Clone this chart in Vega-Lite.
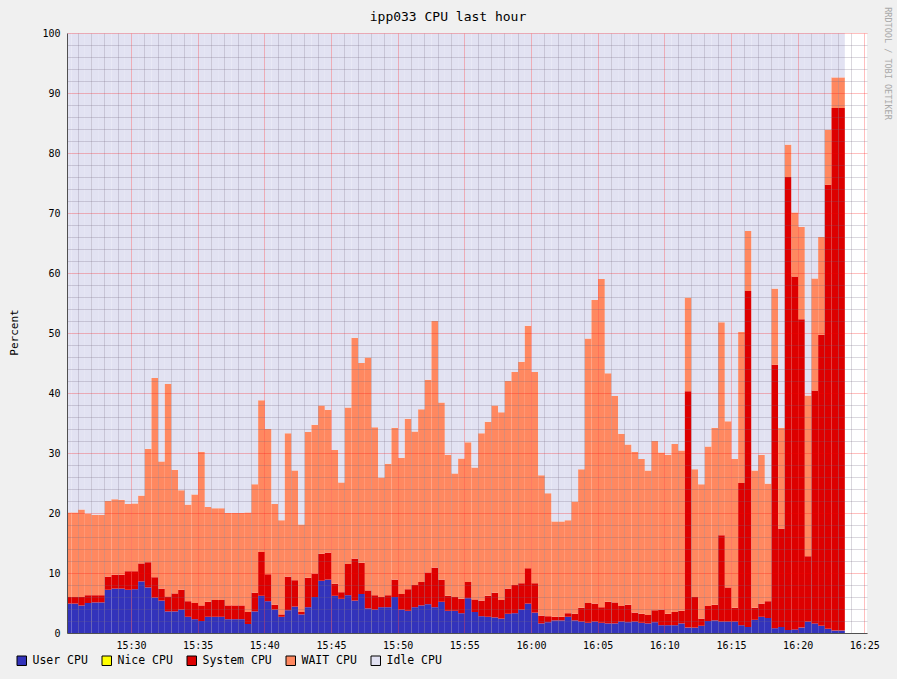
{
  "$schema": "https://vega.github.io/schema/vega-lite/v6.json",
  "width": 800,
  "height": 600,
  "autosize": "none",
  "padding": {"left": 67, "top": 33, "right": 30, "bottom": 46},
  "background": "#F0F0F0",
  "view": {"fill": "white", "stroke": null},
  "config": {"font": "DejaVu Sans Mono"},
  "title": {
    "text": "ipp033 CPU last hour",
    "anchor": "middle",
    "dx": -19,
    "dy": 23,
    "offset": 6,
    "font": "DejaVu Sans Mono",
    "fontSize": 13,
    "fontWeight": "normal",
    "color": "black"
  },
  "data": {
    "values": [
      {"t": "2024-01-01T15:25:00", "user": 4.9, "system": 1.1, "wait": 14.1, "idle": 79.9},
      {"t": "2024-01-01T15:25:30", "user": 4.9, "system": 1.1, "wait": 14.1, "idle": 79.9},
      {"t": "2024-01-01T15:26:00", "user": 4.6, "system": 1.4, "wait": 14.6, "idle": 79.4},
      {"t": "2024-01-01T15:26:30", "user": 5.0, "system": 1.3, "wait": 13.6, "idle": 80.1},
      {"t": "2024-01-01T15:27:00", "user": 5.1, "system": 1.2, "wait": 13.4, "idle": 80.3},
      {"t": "2024-01-01T15:27:30", "user": 5.1, "system": 1.2, "wait": 13.4, "idle": 80.3},
      {"t": "2024-01-01T15:28:00", "user": 7.2, "system": 2.2, "wait": 12.6, "idle": 78.0},
      {"t": "2024-01-01T15:28:30", "user": 7.4, "system": 2.3, "wait": 12.6, "idle": 77.7},
      {"t": "2024-01-01T15:29:00", "user": 7.4, "system": 2.3, "wait": 12.5, "idle": 77.8},
      {"t": "2024-01-01T15:29:30", "user": 7.2, "system": 3.1, "wait": 11.2, "idle": 78.5},
      {"t": "2024-01-01T15:30:00", "user": 7.3, "system": 3.0, "wait": 11.3, "idle": 78.4},
      {"t": "2024-01-01T15:30:30", "user": 8.6, "system": 3.0, "wait": 11.3, "idle": 77.1},
      {"t": "2024-01-01T15:31:00", "user": 7.6, "system": 4.2, "wait": 18.9, "idle": 69.3},
      {"t": "2024-01-01T15:31:30", "user": 5.9, "system": 3.4, "wait": 33.2, "idle": 57.5},
      {"t": "2024-01-01T15:32:00", "user": 5.4, "system": 2.0, "wait": 21.2, "idle": 71.4},
      {"t": "2024-01-01T15:32:30", "user": 3.6, "system": 2.5, "wait": 35.4, "idle": 58.5},
      {"t": "2024-01-01T15:33:00", "user": 3.6, "system": 3.0, "wait": 20.6, "idle": 72.8},
      {"t": "2024-01-01T15:33:30", "user": 3.9, "system": 3.3, "wait": 16.6, "idle": 76.2},
      {"t": "2024-01-01T15:34:00", "user": 2.7, "system": 2.6, "wait": 16.1, "idle": 78.6},
      {"t": "2024-01-01T15:34:30", "user": 2.3, "system": 2.7, "wait": 18.1, "idle": 76.9},
      {"t": "2024-01-01T15:35:00", "user": 2.0, "system": 2.6, "wait": 25.6, "idle": 69.8},
      {"t": "2024-01-01T15:35:30", "user": 2.7, "system": 2.5, "wait": 15.8, "idle": 79.0},
      {"t": "2024-01-01T15:36:00", "user": 2.7, "system": 2.8, "wait": 15.3, "idle": 79.2},
      {"t": "2024-01-01T15:36:30", "user": 2.7, "system": 2.8, "wait": 15.3, "idle": 79.2},
      {"t": "2024-01-01T15:37:00", "user": 2.3, "system": 2.3, "wait": 15.4, "idle": 80.0},
      {"t": "2024-01-01T15:37:30", "user": 2.3, "system": 2.3, "wait": 15.4, "idle": 80.0},
      {"t": "2024-01-01T15:38:00", "user": 2.3, "system": 2.3, "wait": 15.4, "idle": 80.0},
      {"t": "2024-01-01T15:38:30", "user": 1.5, "system": 2.0, "wait": 16.6, "idle": 79.9},
      {"t": "2024-01-01T15:39:00", "user": 3.6, "system": 3.1, "wait": 18.1, "idle": 75.2},
      {"t": "2024-01-01T15:39:30", "user": 6.2, "system": 7.3, "wait": 25.3, "idle": 61.2},
      {"t": "2024-01-01T15:40:00", "user": 5.3, "system": 4.5, "wait": 24.2, "idle": 66.0},
      {"t": "2024-01-01T15:40:30", "user": 3.9, "system": 0.8, "wait": 16.8, "idle": 78.5},
      {"t": "2024-01-01T15:41:00", "user": 2.7, "system": 0.4, "wait": 15.7, "idle": 81.2},
      {"t": "2024-01-01T15:41:30", "user": 3.8, "system": 5.6, "wait": 23.9, "idle": 66.7},
      {"t": "2024-01-01T15:42:00", "user": 4.4, "system": 4.4, "wait": 18.3, "idle": 72.9},
      {"t": "2024-01-01T15:42:30", "user": 3.1, "system": 0.4, "wait": 14.6, "idle": 81.9},
      {"t": "2024-01-01T15:43:00", "user": 4.3, "system": 4.9, "wait": 24.3, "idle": 66.5},
      {"t": "2024-01-01T15:43:30", "user": 6.0, "system": 3.9, "wait": 24.8, "idle": 65.3},
      {"t": "2024-01-01T15:44:00", "user": 8.7, "system": 4.5, "wait": 24.7, "idle": 62.1},
      {"t": "2024-01-01T15:44:30", "user": 8.9, "system": 4.5, "wait": 23.8, "idle": 62.8},
      {"t": "2024-01-01T15:45:00", "user": 6.2, "system": 2.0, "wait": 22.3, "idle": 69.5},
      {"t": "2024-01-01T15:45:30", "user": 5.7, "system": 1.1, "wait": 18.3, "idle": 74.9},
      {"t": "2024-01-01T15:46:00", "user": 6.3, "system": 5.2, "wait": 26.1, "idle": 62.4},
      {"t": "2024-01-01T15:46:30", "user": 5.4, "system": 7.0, "wait": 36.8, "idle": 50.8},
      {"t": "2024-01-01T15:47:00", "user": 6.5, "system": 5.2, "wait": 33.3, "idle": 55.0},
      {"t": "2024-01-01T15:47:30", "user": 4.1, "system": 3.0, "wait": 38.8, "idle": 54.1},
      {"t": "2024-01-01T15:48:00", "user": 3.9, "system": 2.4, "wait": 28.0, "idle": 65.7},
      {"t": "2024-01-01T15:48:30", "user": 4.3, "system": 1.7, "wait": 19.9, "idle": 74.1},
      {"t": "2024-01-01T15:49:00", "user": 4.3, "system": 2.0, "wait": 21.9, "idle": 71.8},
      {"t": "2024-01-01T15:49:30", "user": 6.0, "system": 2.9, "wait": 25.3, "idle": 65.8},
      {"t": "2024-01-01T15:50:00", "user": 3.9, "system": 2.6, "wait": 22.7, "idle": 70.8},
      {"t": "2024-01-01T15:50:30", "user": 3.7, "system": 3.6, "wait": 28.4, "idle": 64.3},
      {"t": "2024-01-01T15:51:00", "user": 4.3, "system": 3.7, "wait": 25.6, "idle": 66.4},
      {"t": "2024-01-01T15:51:30", "user": 4.6, "system": 3.9, "wait": 28.8, "idle": 62.7},
      {"t": "2024-01-01T15:52:00", "user": 4.8, "system": 5.3, "wait": 32.1, "idle": 57.8},
      {"t": "2024-01-01T15:52:30", "user": 4.3, "system": 6.6, "wait": 41.1, "idle": 48.0},
      {"t": "2024-01-01T15:53:00", "user": 5.2, "system": 3.7, "wait": 29.5, "idle": 61.6},
      {"t": "2024-01-01T15:53:30", "user": 3.7, "system": 2.5, "wait": 23.5, "idle": 70.3},
      {"t": "2024-01-01T15:54:00", "user": 3.7, "system": 2.3, "wait": 20.6, "idle": 73.4},
      {"t": "2024-01-01T15:54:30", "user": 3.3, "system": 2.4, "wait": 23.4, "idle": 70.9},
      {"t": "2024-01-01T15:55:00", "user": 5.8, "system": 2.7, "wait": 23.3, "idle": 68.2},
      {"t": "2024-01-01T15:55:30", "user": 3.5, "system": 2.1, "wait": 22.0, "idle": 72.4},
      {"t": "2024-01-01T15:56:00", "user": 2.8, "system": 2.6, "wait": 27.9, "idle": 66.7},
      {"t": "2024-01-01T15:56:30", "user": 2.7, "system": 3.5, "wait": 29.0, "idle": 64.8},
      {"t": "2024-01-01T15:57:00", "user": 2.6, "system": 4.1, "wait": 31.2, "idle": 62.1},
      {"t": "2024-01-01T15:57:30", "user": 2.4, "system": 3.1, "wait": 31.3, "idle": 63.2},
      {"t": "2024-01-01T15:58:00", "user": 3.2, "system": 4.2, "wait": 34.6, "idle": 58.0},
      {"t": "2024-01-01T15:58:30", "user": 3.3, "system": 4.7, "wait": 35.5, "idle": 56.5},
      {"t": "2024-01-01T15:59:00", "user": 3.9, "system": 4.4, "wait": 36.9, "idle": 54.8},
      {"t": "2024-01-01T15:59:30", "user": 4.9, "system": 5.9, "wait": 40.4, "idle": 48.8},
      {"t": "2024-01-01T16:00:00", "user": 3.4, "system": 4.9, "wait": 35.2, "idle": 56.5},
      {"t": "2024-01-01T16:00:30", "user": 1.6, "system": 1.3, "wait": 23.4, "idle": 73.7},
      {"t": "2024-01-01T16:01:00", "user": 1.8, "system": 1.0, "wait": 20.5, "idle": 76.7},
      {"t": "2024-01-01T16:01:30", "user": 2.1, "system": 0.6, "wait": 15.9, "idle": 81.4},
      {"t": "2024-01-01T16:02:00", "user": 2.1, "system": 0.6, "wait": 15.9, "idle": 81.4},
      {"t": "2024-01-01T16:02:30", "user": 2.7, "system": 0.6, "wait": 15.5, "idle": 81.2},
      {"t": "2024-01-01T16:03:00", "user": 2.1, "system": 1.1, "wait": 18.7, "idle": 78.1},
      {"t": "2024-01-01T16:03:30", "user": 1.9, "system": 2.3, "wait": 23.1, "idle": 72.7},
      {"t": "2024-01-01T16:04:00", "user": 1.7, "system": 3.3, "wait": 44.1, "idle": 50.9},
      {"t": "2024-01-01T16:04:30", "user": 1.9, "system": 3.0, "wait": 50.6, "idle": 44.5},
      {"t": "2024-01-01T16:05:00", "user": 1.7, "system": 2.6, "wait": 54.7, "idle": 41.0},
      {"t": "2024-01-01T16:05:30", "user": 1.6, "system": 3.6, "wait": 38.1, "idle": 56.7},
      {"t": "2024-01-01T16:06:00", "user": 1.6, "system": 3.5, "wait": 34.4, "idle": 60.5},
      {"t": "2024-01-01T16:06:30", "user": 1.9, "system": 2.6, "wait": 28.7, "idle": 66.8},
      {"t": "2024-01-01T16:07:00", "user": 1.8, "system": 2.9, "wait": 26.7, "idle": 68.6},
      {"t": "2024-01-01T16:07:30", "user": 1.9, "system": 1.5, "wait": 26.8, "idle": 69.8},
      {"t": "2024-01-01T16:08:00", "user": 1.7, "system": 1.5, "wait": 25.8, "idle": 71.0},
      {"t": "2024-01-01T16:08:30", "user": 1.6, "system": 1.4, "wait": 24.1, "idle": 72.9},
      {"t": "2024-01-01T16:09:00", "user": 1.8, "system": 2.0, "wait": 28.2, "idle": 68.0},
      {"t": "2024-01-01T16:09:30", "user": 1.3, "system": 2.6, "wait": 26.2, "idle": 69.9},
      {"t": "2024-01-01T16:10:00", "user": 1.3, "system": 1.9, "wait": 26.5, "idle": 70.3},
      {"t": "2024-01-01T16:10:30", "user": 1.3, "system": 2.2, "wait": 28.0, "idle": 68.5},
      {"t": "2024-01-01T16:11:00", "user": 1.6, "system": 2.1, "wait": 26.7, "idle": 69.6},
      {"t": "2024-01-01T16:11:30", "user": 0.9, "system": 39.4, "wait": 15.6, "idle": 44.1},
      {"t": "2024-01-01T16:12:00", "user": 0.9, "system": 5.1, "wait": 21.3, "idle": 72.7},
      {"t": "2024-01-01T16:12:30", "user": 1.2, "system": 1.2, "wait": 22.4, "idle": 75.2},
      {"t": "2024-01-01T16:13:00", "user": 2.0, "system": 2.5, "wait": 26.6, "idle": 68.9},
      {"t": "2024-01-01T16:13:30", "user": 2.1, "system": 2.6, "wait": 29.5, "idle": 65.8},
      {"t": "2024-01-01T16:14:00", "user": 1.9, "system": 14.4, "wait": 35.5, "idle": 48.2},
      {"t": "2024-01-01T16:14:30", "user": 1.9, "system": 5.7, "wait": 27.7, "idle": 64.7},
      {"t": "2024-01-01T16:15:00", "user": 1.9, "system": 2.3, "wait": 24.8, "idle": 71.0},
      {"t": "2024-01-01T16:15:30", "user": 1.3, "system": 23.7, "wait": 25.2, "idle": 49.8},
      {"t": "2024-01-01T16:16:00", "user": 1.0, "system": 56.0, "wait": 10.0, "idle": 33.0},
      {"t": "2024-01-01T16:16:30", "user": 2.2, "system": 2.0, "wait": 22.9, "idle": 72.9},
      {"t": "2024-01-01T16:17:00", "user": 2.7, "system": 2.2, "wait": 24.8, "idle": 70.3},
      {"t": "2024-01-01T16:17:30", "user": 2.5, "system": 2.8, "wait": 19.6, "idle": 75.1},
      {"t": "2024-01-01T16:18:00", "user": 0.8, "system": 43.9, "wait": 12.7, "idle": 42.6},
      {"t": "2024-01-01T16:18:30", "user": 1.0, "system": 16.4, "wait": 16.8, "idle": 65.8},
      {"t": "2024-01-01T16:19:00", "user": 0.5, "system": 75.5, "wait": 5.4, "idle": 18.6},
      {"t": "2024-01-01T16:19:30", "user": 0.6, "system": 58.8, "wait": 10.7, "idle": 29.9},
      {"t": "2024-01-01T16:20:00", "user": 0.9, "system": 51.4, "wait": 15.4, "idle": 32.3},
      {"t": "2024-01-01T16:20:30", "user": 1.9, "system": 10.9, "wait": 26.8, "idle": 60.4},
      {"t": "2024-01-01T16:21:00", "user": 1.6, "system": 38.8, "wait": 18.7, "idle": 40.9},
      {"t": "2024-01-01T16:21:30", "user": 1.2, "system": 48.5, "wait": 16.3, "idle": 34.0},
      {"t": "2024-01-01T16:22:00", "user": 0.7, "system": 74.0, "wait": 9.2, "idle": 16.1},
      {"t": "2024-01-01T16:22:30", "user": 0.4, "system": 87.1, "wait": 5.1, "idle": 7.4},
      {"t": "2024-01-01T16:23:00", "user": 0.4, "system": 87.1, "wait": 5.1, "idle": 7.4}
    ]
  },
  "layer": [
    {
      "transform": [
        {"fold": ["user", "system", "wait", "idle"], "as": ["key", "value"]},
        {
          "lookup": "key",
          "from": {
            "data": {
              "values": [
                {"key": "user", "name": "User CPU", "rank": 1},
                {"key": "system", "name": "System CPU", "rank": 3},
                {"key": "wait", "name": "WAIT CPU", "rank": 4},
                {"key": "idle", "name": "Idle CPU", "rank": 5}
              ]
            },
            "key": "key",
            "fields": ["name", "rank"]
          }
        }
      ],
      "mark": {"type": "bar", "clip": true, "binSpacing": 0, "strokeWidth": 0},
      "encoding": {
        "x": {
          "field": "t",
          "type": "temporal",
          "timeUnit": {"unit": "yearmonthdatehoursminutesseconds", "step": 30},
          "scale": {
            "domain": [
              {"year": 2024, "month": 1, "date": 1, "hours": 15, "minutes": 25, "seconds": 12},
              {"year": 2024, "month": 1, "date": 1, "hours": 16, "minutes": 25, "seconds": 12}
            ]
          },
          "axis": {
            "title": null,
            "tickCount": 60,
            "grid": true,
            "gridColor": {
              "condition": {"test": "minutes(datum.value) % 5 === 0", "value": "rgba(255,0,0,0.25)"},
              "value": "rgba(110,100,125,0.25)"
            },
            "labelExpr": "minutes(datum.value) % 5 === 0 ? timeFormat(datum.value, '%H:%M') : ''",
            "labelOverlap": false,
            "labelFlush": false,
            "labelFont": "DejaVu Sans Mono",
            "labelFontSize": 10,
            "labelColor": "black",
            "labelPadding": 7,
            "ticks": false,
            "domainColor": "#505050",
            "zindex": 1
          }
        },
        "y": {
          "field": "value",
          "type": "quantitative",
          "stack": "zero",
          "scale": {"domain": [0, 100], "nice": false},
          "axis": {
            "values": [0, 2, 4, 6, 8, 10, 12, 14, 16, 18, 20, 22, 24, 26, 28, 30, 32, 34, 36, 38, 40, 42, 44, 46, 48, 50, 52, 54, 56, 58, 60, 62, 64, 66, 68, 70, 72, 74, 76, 78, 80, 82, 84, 86, 88, 90, 92, 94, 96, 98, 100],
            "grid": true,
            "gridColor": {
              "condition": {"test": "datum.value % 10 === 0", "value": "rgba(255,0,0,0.25)"},
              "value": "rgba(110,100,125,0.25)"
            },
            "labelExpr": "datum.value % 10 === 0 ? datum.label : ''",
            "labelOverlap": false,
            "labelFont": "DejaVu Sans Mono",
            "labelFontSize": 10,
            "labelColor": "black",
            "labelPadding": 7,
            "ticks": false,
            "domainColor": "#505050",
            "title": "Percent",
            "titleFont": "DejaVu Sans Mono",
            "titleFontSize": 11,
            "titleFontWeight": "normal",
            "titleColor": "black",
            "titleAngle": -90,
            "titleX": -53,
            "titleY": 299,
            "titleAlign": "center",
            "titleBaseline": "middle",
            "zindex": 1
          }
        },
        "color": {
          "field": "name",
          "type": "nominal",
          "scale": {
            "domain": ["User CPU", "Nice CPU", "System CPU", "WAIT CPU", "Idle CPU"],
            "range": ["#3333BB", "#FFFF00", "#DD0000", "#FF8860", "#E2E2F2"]
          },
          "legend": {
            "orient": "none",
            "legendX": -51,
            "legendY": 622,
            "direction": "horizontal",
            "columns": 5,
            "gridAlign": "none",
            "title": null,
            "symbolType": "square",
            "symbolSize": 90,
            "symbolStrokeColor": "black",
            "symbolStrokeWidth": 1,
            "symbolOpacity": 1,
            "labelFont": "DejaVu Sans Mono",
            "labelFontSize": 11.5,
            "labelColor": "black",
            "labelOffset": 5,
            "columnPadding": 12
          }
        },
        "order": {"field": "rank", "type": "quantitative"}
      }
    },
    {
      "data": {"values": [{}]},
      "mark": {"type": "rule", "opacity": 0},
      "encoding": {
        "y": {
          "datum": 0,
          "type": "quantitative",
          "axis": {
            "orient": "right",
            "labels": false,
            "ticks": false,
            "domain": false,
            "grid": false,
            "title": "RRDTOOL / TOBI OETIKER",
            "titleFont": "DejaVu Sans Mono",
            "titleFontSize": 8.5,
            "titleFontWeight": "normal",
            "titleColor": "#A8A8A8",
            "titleAngle": 90,
            "titleX": 20,
            "titleY": 30,
            "titleAlign": "center",
            "titleBaseline": "middle"
          }
        }
      }
    }
  ],
  "resolve": {"axis": {"y": "independent"}}
}
